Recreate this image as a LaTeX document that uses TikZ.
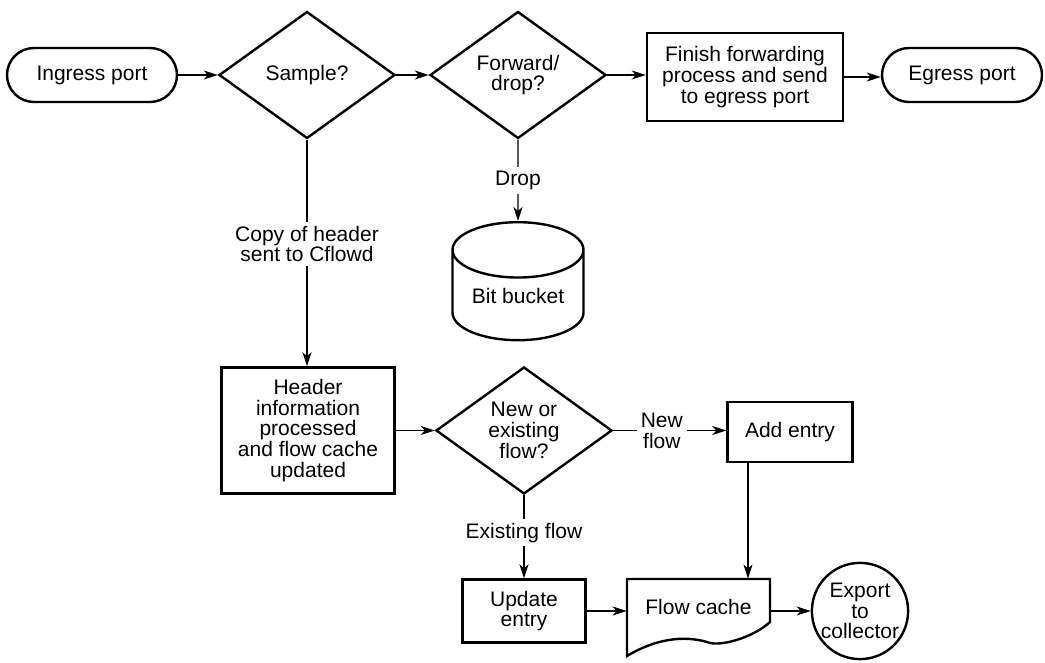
\documentclass[tikz,border=0pt]{standalone}
\usepackage{fontspec}
\setmainfont{Liberation Sans}
\usetikzlibrary{shapes.geometric,arrows.meta}

\tikzset{
	term/.style={draw, line width=1.2pt, rounded corners=13.5pt, minimum width=85pt, minimum height=27pt, inner sep=0pt},
	decision/.style={draw, diamond, aspect=1.4, line width=1.2pt, minimum width=88pt, minimum height=63.5pt, inner sep=0pt, align=center},
	proc/.style={draw, rectangle, line width=1.2pt, align=center, inner sep=0pt},
	flowlabel/.style={fill=white, align=center, inner sep=2pt},
	link/.style={line width=0.7pt, -{Stealth[length=7pt,width=4.5pt,inset=2pt]}}
}

\begin{document}
\begin{tikzpicture}[x=0.5pt, y=-0.5pt, font=\fontsize{10.5}{10.4}\selectfont]
	\useasboundingbox (0,0) rectangle (1045,663);

	% forwarding path
	\node[term] (ingress) at (92,75) {Ingress port};
	\node[decision] (sample) at (307,75) {Sample?};
	\node[decision] (fwd) at (518,75) {Forward/\\drop?};
	\node[proc, minimum width=98pt, minimum height=44pt] (finish) at (745,77) {Finish forwarding\\process and send\\to egress port};
	\node[term, minimum width=80pt] (egress) at (962,75) {Egress port};
	\node[draw, cylinder, shape border rotate=90, aspect=0.6, line width=1.2pt, minimum width=65.5pt, minimum height=59pt, inner sep=0pt, anchor=north] (bucket) at (518,221) {Bit bucket};

	\draw[link] (ingress) -- (sample);
	\draw[link] (sample) -- (fwd);
	\draw[link] (fwd.east) -- (fwd.east -| finish.west);
	\draw[link] (finish.east) -- (finish.east -| egress.west);
	\draw[link] (fwd.south) -- (bucket.top) node[flowlabel, midway] {Drop};

	% cflowd
	\node[proc, minimum width=86.5pt, minimum height=63pt] (header) at (308,430.5) {Header\\information\\processed\\and flow cache\\updated};
	\node[decision] (neworex) at (524,430.5) {New or\\existing\\flow?};
	\node[proc, minimum width=62.5pt, minimum height=30pt] (addentry) at (790,432) {Add entry};
	\node[proc, minimum width=61.5pt, minimum height=31.5pt] (update) at (524,611) {Update\\entry};
	\node[minimum width=71.5pt, minimum height=28pt, inner sep=0pt] (flowcache) at (698.5,607) {Flow cache};
	\draw[line width=1.2pt] (627,656) -- (627,579) -- (770,579) -- (770,622)
		.. controls (755,636) and (725,646) .. (710,643)
		.. controls (690,636) and (660,636) .. (627,656) -- cycle;
	\node[draw, circle, line width=1.2pt, minimum size=48pt, inner sep=0pt, align=center] (export) at (860,611) {Export\\to\\collector};

	\draw[link] (sample.south) -- (sample.south |- header.north)
		node[flowlabel, pos=0.46] {Copy of header\\sent to Cflowd};
	\draw[link] (header) -- (neworex);
	\draw[link] (neworex.east) -- (neworex.east -| addentry.west)
		node[flowlabel, pos=0.43] {New\\flow};
	\draw[link] (neworex.south) -- (update.north)
		node[flowlabel, pos=0.45] {Existing flow};
	\draw[link] ([xshift=-21pt]addentry.south) -- ([xshift=-21pt]addentry.south |- flowcache.north);
	\draw[link] (update.east) -- (update.east -| flowcache.west);
	\draw[link] (flowcache.east |- export) -- (export);
\end{tikzpicture}
\end{document}
